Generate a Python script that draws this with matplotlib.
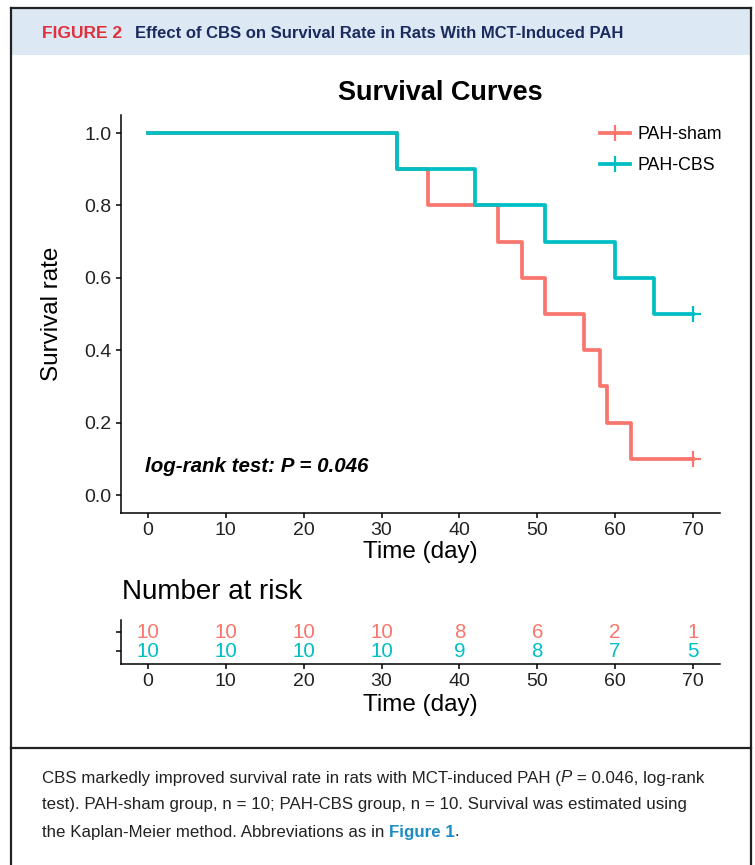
import matplotlib
matplotlib.use('Agg')
import matplotlib.pyplot as plt
from matplotlib.patches import Rectangle
from matplotlib.lines import Line2D

# ---------------------------------- DATA -----------------------------------------
sham_days = [0, 32, 36, 45, 48, 51, 56, 58, 59, 62, 70]
sham_surv = [1.0, 0.9, 0.8, 0.7, 0.6, 0.5, 0.4, 0.3, 0.2, 0.1, 0.1]
cbs_days = [0, 32, 42, 51, 60, 65, 70]
cbs_surv = [1.0, 0.9, 0.8, 0.7, 0.6, 0.5, 0.5]
censor_day = 70
risk_days = [0, 10, 20, 30, 40, 50, 60, 70]
sham_risk = [10, 10, 10, 10, 8, 6, 2, 1]
cbs_risk = [10, 10, 10, 10, 9, 8, 7, 5]
group_names = ['PAH-sham', 'PAH-CBS']
y_ticks = [0.0, 0.2, 0.4, 0.6, 0.8, 1.0]

caption_lines = [
    [('CBS markedly improved survival rate in rats with MCT-induced PAH (', 'n'),
     ('P', 'i'), (' = 0.046, log-rank', 'n')],
    [('test). PAH-sham group, n = 10; PAH-CBS group, n = 10. Survival was estimated using', 'n')],
    [('the Kaplan-Meier method. Abbreviations as in ', 'n'), ('Figure 1', 'b'), ('.', 'n')],
]

# ---------------------------------- STYLE -----------------------------------------
RED = '#F8766D'
TEAL = '#00BFC4'
W, H = 755, 865
plt.rcParams['font.family'] = ['Liberation Sans', 'DejaVu Sans']
narrow = ['Liberation Sans Narrow', 'Liberation Sans', 'DejaVu Sans']


def fx(px):
    return px / W


def fy(py):
    return 1 - py / H


fig = plt.figure(figsize=(W / 100, H / 100), dpi=100)

# frame and header band
fig.add_artist(Rectangle((fx(11), fy(55)), fx(751) - fx(11), fy(8) - fy(55),
                         transform=fig.transFigure, facecolor='#dde8f5', edgecolor='none'))
for xs, ys in [([11, 751], [8, 8]), ([11, 11], [8, 866]), ([751, 751], [8, 866]), ([11, 751], [748, 748])]:
    fig.add_artist(Line2D([fx(v) for v in xs], [fy(v) for v in ys], transform=fig.transFigure,
                          color='#222222', lw=1.6))

fig.text(fx(42), fy(33), 'FIGURE 2', color='#e0303c', fontsize=12.5, fontweight='bold',
         family=narrow, va='center')
fig.text(fx(135), fy(33), 'Effect of CBS on Survival Rate in Rats With MCT-Induced PAH',
         color='#1b2b5e', fontsize=12, fontweight='bold', family=narrow, va='center')

# ---------------------------------- SURVIVAL PLOT -----------------------------------------
x_lim = (-3.5, 73.5)
ax = fig.add_axes([fx(120.7), fy(513.1), (720.3 - 120.7) / W, (513.1 - 114.9) / H])
ax.step(sham_days, sham_surv, where='post', color=RED, lw=2.7, label=group_names[0])
ax.step(cbs_days, cbs_surv, where='post', color=TEAL, lw=2.7, label=group_names[1])
ax.plot(censor_day, sham_surv[-1], marker='+', color=RED, ms=11, mew=1.6)
ax.plot(censor_day, cbs_surv[-1], marker='+', color=TEAL, ms=11, mew=1.6)
ax.set_xlim(*x_lim)
ax.set_ylim(-0.05, 1.05)
ax.set_xticks(risk_days)
ax.set_yticks(y_ticks)
ax.set_yticklabels([f'{v:.1f}' for v in y_ticks])
for s in ['top', 'right']:
    ax.spines[s].set_visible(False)
for s in ['left', 'bottom']:
    ax.spines[s].set_linewidth(1.1)
ax.tick_params(length=3.6, width=1.1, labelsize=14, pad=3, labelcolor='#222222')
ax.set_xlabel('Time (day)', fontsize=17.5, labelpad=1)
ax.set_ylabel('Survival rate', fontsize=17.5, labelpad=15)
ax.text(-0.4, 0.08, 'log-rank test: P = 0.046', fontsize=14.8, fontweight='bold', style='italic',
        va='center', ha='left')

handles = [Line2D([], [], color=c, lw=2.7, marker='+', ms=11, mew=1.6) for c in (RED, TEAL)]
ax.legend(handles, group_names, loc='upper left', bbox_to_anchor=(fx(600), fy(126)),
          bbox_transform=fig.transFigure, frameon=False, fontsize=12.8, handlelength=1.7,
          handletextpad=0.4, labelspacing=0.8, borderpad=0, borderaxespad=0)

fig.text(fx(440), fy(93), 'Survival Curves', fontsize=19.5, fontweight='bold', ha='center', va='center')

# ---------------------------------- RISK TABLE -----------------------------------------
fig.text(fx(122), fy(592), 'Number at risk', fontsize=20, va='center')
rax = fig.add_axes([fx(120.7), fy(664), (720.3 - 120.7) / W, (664 - 620) / H])
for d, a, b in zip(risk_days, sham_risk, cbs_risk):
    rax.text(d, 2, str(a), color=RED, fontsize=14.8, ha='center', va='center')
    rax.text(d, 1, str(b), color=TEAL, fontsize=14.8, ha='center', va='center')
rax.set_xlim(*x_lim)
rax.set_ylim(0.32, 2.65)
rax.set_xticks(risk_days)
rax.set_yticks([1, 2])
rax.set_yticklabels([])
for s in ['top', 'right']:
    rax.spines[s].set_visible(False)
for s in ['left', 'bottom']:
    rax.spines[s].set_linewidth(1.1)
rax.tick_params(length=3.6, width=1.1, labelsize=14, pad=3, labelcolor='#222222')
rax.set_xlabel('Time (day)', fontsize=17.5, labelpad=3)

# ---------------------------------- CAPTION -----------------------------------------
renderer = fig.canvas.get_renderer()
styles = {'n': dict(color='#222222'),
          'i': dict(color='#222222', style='italic'),
          'b': dict(color='#1c8cc4', fontweight='bold')}
for i, line in enumerate(caption_lines):
    x = fx(42)
    for txt, st in line:
        t = fig.text(x, fy(778 + 27 * i), txt, fontsize=12.2, family=narrow, va='center', **styles[st])
        bb = t.get_window_extent(renderer)
        x += bb.width / fig.bbox.width

fig.savefig('out.png', dpi=100)
